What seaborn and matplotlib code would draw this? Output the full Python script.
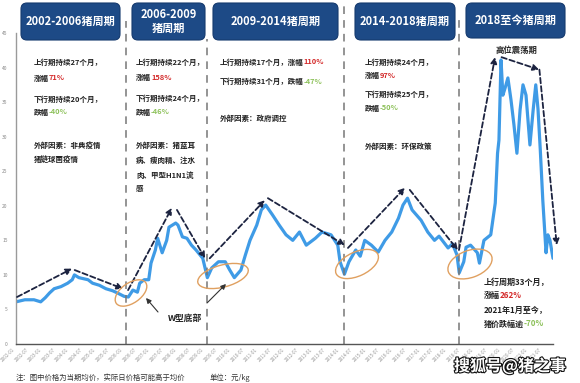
import matplotlib
matplotlib.use("Agg")
import matplotlib.pyplot as plt
import matplotlib.dates as mdates
import matplotlib.patheffects as pe
from matplotlib.patches import FancyBboxPatch, Ellipse
import seaborn as sns
import pandas as pd

# price series, yuan/kg
dates = ["2002-01-01", "2002-05-01", "2002-09-01", "2002-12-01", "2003-02-01", "2003-04-01",
         "2003-06-01", "2003-09-01", "2003-12-01", "2004-02-01", "2004-03-01", "2004-05-01",
         "2004-09-01", "2004-11-01", "2005-02-01", "2005-05-01", "2005-08-01", "2005-10-01",
         "2006-01-01", "2006-03-01", "2006-05-01", "2006-07-01", "2006-08-01", "2006-10-01",
         "2006-12-01", "2007-01-01", "2007-03-01", "2007-04-01", "2007-06-01", "2007-08-01",
         "2007-09-01", "2007-12-01", "2008-01-01", "2008-03-01", "2008-05-01", "2008-07-01",
         "2008-09-01", "2008-12-01", "2009-01-01", "2009-02-01", "2009-04-01", "2009-07-01",
         "2009-10-01", "2009-12-01", "2010-02-01", "2010-05-01", "2010-07-01", "2010-09-01",
         "2010-12-01", "2011-02-01", "2011-04-01", "2011-07-01", "2011-10-01", "2012-01-01",
         "2012-04-01", "2012-07-01", "2012-10-01", "2013-02-01", "2013-05-01", "2013-09-01",
         "2013-12-01", "2014-01-01", "2014-03-01", "2014-05-01", "2014-08-01", "2014-10-01",
         "2014-12-01", "2015-03-01", "2015-06-01", "2015-09-01", "2015-12-01", "2016-03-01",
         "2016-05-01", "2016-07-01", "2016-09-01", "2017-01-01", "2017-04-01", "2017-07-01",
         "2017-09-01", "2018-01-01", "2018-03-01", "2018-05-01", "2018-06-01", "2018-08-01",
         "2018-09-01", "2018-11-01", "2019-02-01", "2019-03-01", "2019-05-01", "2019-08-01",
         "2019-10-01", "2019-11-01", "2019-11-20", "2019-12-18", "2020-01-12", "2020-02-10",
         "2020-03-20", "2020-05-01", "2020-06-10", "2020-07-20", "2020-09-01", "2020-10-10",
         "2020-11-20", "2021-01-12", "2021-02-25", "2021-04-01", "2021-05-01", "2021-06-01",
         "2021-07-05", "2021-08-18", "2021-09-12", "2021-10-10", "2021-11-20"]
prices = [6.1, 6.4, 6.4, 6.1, 6.7, 7.4,
          8.0, 8.3, 8.8, 9.3, 10.0, 9.6,
          9.3, 8.8, 8.5, 8.0, 7.7, 7.4,
          6.9, 6.8, 7.8, 7.5, 8.8, 9.3,
          9.3, 11.7, 13.6, 15.3, 13.2, 15.0,
          16.9, 17.5, 17.2, 15.5, 15.3, 14.3,
          13.6, 12.4, 11.0, 9.6, 11.0, 11.9,
          11.9, 10.7, 9.6, 10.7, 12.9, 15.0,
          17.2, 19.4, 20.1, 18.7, 17.2, 15.8,
          15.0, 16.2, 14.3, 15.3, 16.2, 15.8,
          14.3, 11.9, 10.1, 11.9, 13.6, 12.7,
          15.0, 14.3, 13.3, 15.0, 16.2, 18.2,
          20.1, 21.1, 19.4, 17.9, 16.2, 15.0,
          15.6, 13.9, 14.5, 12.9, 10.3, 11.9,
          14.0, 14.3, 13.2, 11.7, 15.0, 15.8,
          20.4, 27.6, 29.5, 41.1, 36.0, 37.0,
          38.5, 35.3, 31.7, 27.6, 33.9, 37.5,
          36.0, 28.8, 33.9, 37.5, 34.0, 28.1,
          20.8, 13.2, 15.8, 15.0, 12.4]

cycle_starts = ["2006-02-01", "2009-02-01", "2014-03-01", "2018-06-01"]
cycle_tops = [1.04, 0.98, 1.09, 1.06]

# dashed trend arrows (start date, start value, end date, end value)
trend_from = [("2002-01-15", 6.8), ("2004-03-05", 10.7), ("2006-02-25", 7.8), ("2007-12-18", 19.4),
              ("2009-03-05", 12.4), ("2011-05-01", 21.1), ("2014-04-18", 13.9), ("2016-08-01", 22.3),
              ("2018-05-28", 13.6), ("2019-12-25", 41.5), ("2021-05-20", 39.7)]
trend_to = [("2004-01-28", 10.9), ("2005-12-18", 8.0), ("2007-10-10", 19.7), ("2009-01-01", 12.4),
            ("2011-03-20", 20.8), ("2014-03-05", 14.3), ("2016-05-28", 22.6), ("2018-05-12", 13.6),
            ("2019-09-28", 41.5), ("2021-05-15", 39.7), ("2022-01-10", 14.3)]

titles = ["2002-2006猪周期", "2006-2009\n猪周期", "2009-2014猪周期", "2014-2018猪周期", "2018至今猪周期"]

df = pd.DataFrame({"date": pd.to_datetime(dates), "price": prices})

W, H = 580, 383
fig = plt.figure(figsize=(W / 100, H / 100), dpi=100)
sns.set_style("white")
plt.rcParams["font.family"] = ["Noto Sans CJK SC", "DejaVu Sans"]

ax = fig.add_axes([16 / W, 39 / H, 537 / W, 311 / H])
sns.lineplot(data=df, x="date", y="price", ax=ax, color="#3f9be6", lw=2.3)

ax.set_ylim(0, 45)
ax.set_xlim(pd.Timestamp("2002-01-01"), pd.Timestamp("2021-11-20"))
ax.set_yticks(range(0, 46, 5))
ax.tick_params(axis="y", labelsize=3.5, labelcolor="#888", length=2, width=0.6, color="#888", pad=4)
ticks = pd.date_range("2002-01-01", "2021-07-01", freq="6MS")
ax.set_xticks(ticks)
ax.set_xticklabels([t.strftime("%Y-%m") for t in ticks], rotation=45, ha="right",
                   fontsize=3.3, color="#999")
ax.xaxis.set_minor_locator(mdates.MonthLocator(bymonth=range(1, 13, 2)))
ax.tick_params(axis="x", which="both", length=1.5, width=0.6, color="#555", pad=1)
ax.set_xlabel("")
ax.set_ylabel("")
for s in ["top", "right"]:
    ax.spines[s].set_visible(False)
ax.spines["left"].set_color("#9a9a9a")
ax.spines["bottom"].set_color("#555")
ax.spines["left"].set_linewidth(1.0)
ax.spines["bottom"].set_linewidth(1.0)

for d, top in zip(cycle_starts, cycle_tops):
    ax.axvline(pd.Timestamp(d), ymin=0, ymax=top, color="#777", ls=(0, (5, 4)), lw=1.1, clip_on=False)

for (d0, v0), (d1, v1) in zip(trend_from, trend_to):
    ax.annotate("", xy=(pd.Timestamp(d1), v1), xytext=(pd.Timestamp(d0), v0),
                annotation_clip=False,
                arrowprops=dict(arrowstyle="-|>,head_length=0.35,head_width=0.18", color="#1c2340",
                                lw=1.3, ls=(0, (3, 1.6)), shrinkA=0, shrinkB=0))

# overlay in pixel coordinates for the notes
ov = fig.add_axes([0, 0, 1, 1], zorder=5)
ov.set_xlim(0, W)
ov.set_ylim(H, 0)
ov.axis("off")
ov.patch.set_alpha(0)

boxes = [(21, 3, 99, 37), (132, 3, 73, 37), (213, 3, 125, 37), (355, 3, 100, 37), (466, 3, 99, 35)]
for (bx, by, bw, bh), t in zip(boxes, titles):
    ov.add_patch(FancyBboxPatch((bx, by), bw, bh, boxstyle="round,pad=0,rounding_size=6",
                                fc="#1d4a86", ec="#153a6e", lw=0.8))
    ov.text(bx + bw / 2, by + bh / 2, t, ha="center", va="center", color="white",
            fontsize=8, fontweight="bold", linespacing=1.1)

RED, GREEN = "#d42a2a", "#8dc15a"
FS = 5.4


def note(x, y, s, size=FS):
    return ov.text(x, y, s, ha="left", va="center", fontsize=size, fontweight="bold", color="#222")


def note2(x, y, a, b, col, size=FS):
    t = note(x, y, a, size)
    ov.annotate(b, xy=(1, 0.5), xycoords=t, ha="left", va="center", fontsize=size,
                fontweight="bold", color=col)


note(34, 62, "上行期持续27个月，")
note2(34, 78, "涨幅", "71%", RED)
note(34, 99, "下行期持续20个月，")
note2(34, 112, "跌幅", "-40%", GREEN)
note(34, 145, "外部因素：非典疫情")
note(34, 159, "猪链球菌疫情")

note(136, 62, "上行期持续22个月，")
note2(136, 77, "涨幅", "158%", RED)
note(136, 98, "下行期持续24个月，")
note2(136, 112, "跌幅", "-46%", GREEN)
note(136, 145, "外部因素：猪蓝耳")
note(136, 160, "病、瘦肉精、注水")
note(136, 175, "肉、甲型H1N1流")
note(136, 188, "感")

note2(220, 62, "上行期持续17个月，涨幅", "110%", RED)
note2(220, 81, "下行期持续31个月，跌幅", "-47%", GREEN)
note(220, 118, "外部因素：政府调控")

note(365, 62, "上行期持续24个月，")
note2(365, 75, "涨幅", "97%", RED)
note(365, 94, "下行期持续25个月，")
note2(365, 108, "跌幅", "-50%", GREEN)
note(365, 146, "外部因素：环保政策")

note(496, 50, "高位震荡期", 6)

note(484, 282, "上行周期33个月，", 5.8)
note2(484, 295, "涨幅", "262%", RED, 5.8)
note(484, 310, "2021年1月至今，", 5.8)
note2(484, 324, "猪价跌幅逾", "-70%", GREEN, 5.8)

ov.text(168, 318, "W型底部", ha="left", va="center", fontsize=6.3, fontweight="bold", color="#222")

for (cx, cy, ew, eh, ang) in [(131, 293, 36, 20, 35), (223, 276, 52, 22, 15),
                              (357, 264, 46, 24, 25), (470, 264, 46, 27, 20)]:
    ov.add_patch(Ellipse((cx, cy), ew, eh, angle=-ang, fill=False, ec="#e0a060", lw=1.0))

for (x0, y0, x1, y1) in [(158, 312, 146, 298), (207, 303, 226, 284)]:
    ov.annotate("", xy=(x1, y1), xytext=(x0, y0),
                arrowprops=dict(arrowstyle="-|>,head_length=0.3,head_width=0.15", color="#333",
                                lw=0.8, shrinkA=0, shrinkB=0))

ov.text(16, 378, "注：图中价格为当期均价，实际日价格可能高于均价", ha="left", va="center",
        fontsize=5.3, color="#333")
ov.text(210, 378, "单位：元/kg", ha="left", va="center", fontsize=5.3, color="#333")

ov.text(510, 366, "搜狐号@猪之事", ha="center", va="center", fontsize=11.5, fontweight="bold",
        color="white", path_effects=[pe.withStroke(linewidth=1.6, foreground="#111")])

fig.savefig("out.png", dpi=100)
